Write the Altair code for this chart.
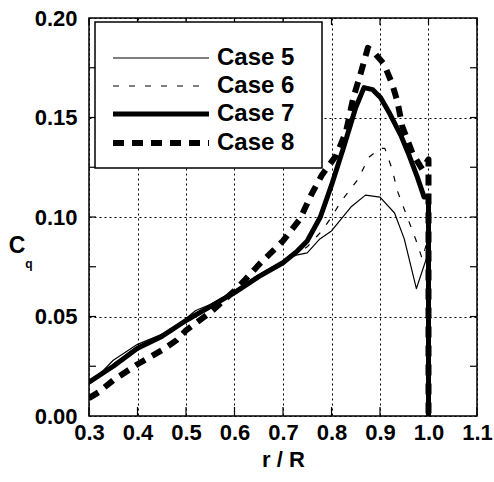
import altair as alt
import pandas as pd

# ---- data ----
x5 = [0.30, 0.33, 0.35, 0.40, 0.45, 0.47, 0.50, 0.52, 0.55, 0.60, 0.65, 0.70, 0.73, 0.75, 0.776, 0.80, 0.84, 0.87, 0.90, 0.93, 0.95, 0.975, 0.99, 1.0, 1.0]
y5 = [0.017, 0.023, 0.028, 0.036, 0.041, 0.042, 0.049, 0.053, 0.056, 0.063, 0.071, 0.078, 0.081, 0.082, 0.089, 0.093, 0.105, 0.111, 0.110, 0.102, 0.089, 0.064, 0.075, 0.082, 0.0]

x6 = [0.30, 0.35, 0.40, 0.45, 0.50, 0.55, 0.60, 0.65, 0.70, 0.73, 0.75, 0.78, 0.80, 0.82, 0.855, 0.877, 0.90, 0.91, 0.925, 0.936, 0.953, 0.974, 0.987, 1.0, 1.0]
y6 = [0.016, 0.026, 0.035, 0.040, 0.048, 0.055, 0.062, 0.070, 0.077, 0.082, 0.085, 0.093, 0.100, 0.108, 0.119, 0.130, 0.1345, 0.1345, 0.124, 0.113, 0.102, 0.0885, 0.079, 0.090, 0.0]

x7 = [0.30, 0.35, 0.40, 0.45, 0.50, 0.55, 0.60, 0.65, 0.70, 0.73, 0.75, 0.777, 0.80, 0.825, 0.85, 0.867, 0.885, 0.901, 0.92, 0.943, 0.96, 0.977, 0.991, 1.0, 1.0]
y7 = [0.017, 0.025, 0.034, 0.040, 0.048, 0.055, 0.062, 0.070, 0.077, 0.083, 0.088, 0.100, 0.116, 0.135, 0.155, 0.165, 0.164, 0.160, 0.152, 0.141, 0.131, 0.120, 0.110, 0.110, 0.0]

x8 = [0.30, 0.32, 0.35, 0.40, 0.45, 0.48, 0.50, 0.55, 0.60, 0.62, 0.65, 0.70, 0.735, 0.76, 0.78, 0.81, 0.83, 0.845, 0.86, 0.875, 0.89, 0.908, 0.925, 0.936, 0.946, 0.967, 0.987, 1.0, 1.0]
y8 = [0.009, 0.012, 0.018, 0.026, 0.033, 0.038, 0.043, 0.052, 0.063, 0.068, 0.076, 0.088, 0.099, 0.112, 0.121, 0.131, 0.143, 0.160, 0.172, 0.185, 0.182, 0.177, 0.167, 0.158, 0.1455, 0.132, 0.124, 0.129, 0.0]

case_names = ["Case 5", "Case 6", "Case 7", "Case 8"]
x_ticks = [0.3, 0.4, 0.5, 0.6, 0.7, 0.8, 0.9, 1.0, 1.1]
y_ticks = [0.0, 0.05, 0.10, 0.15, 0.20]
y_minor = [0.025, 0.05, 0.075, 0.10, 0.125, 0.15, 0.175]

W, H = 388, 398
FONT = "Liberation Sans"

styles = [
    dict(strokeWidth=1.2),
    dict(strokeWidth=1.2, strokeDash=[6, 10]),
    dict(strokeWidth=5),
    dict(strokeWidth=6, strokeDash=[11, 8]),
]

xs = alt.Scale(domain=[0.3, 1.1], nice=False, zero=False)
ys = alt.Scale(domain=[0.0, 0.2], nice=False, zero=False)

xaxis = alt.Axis(values=x_ticks, format=".1f", title="r / R", grid=True,
                 gridColor="black", gridDash=[2, 3], gridWidth=1, gridOpacity=1,
                 ticks=False, labelPadding=6, titlePadding=6, domain=False,
                 labelFlush=False, labelOverlap=False)
yaxis = alt.Axis(values=y_ticks, format=".2f", title=None, grid=True,
                 gridColor="black", gridDash=[2, 3], gridWidth=1, gridOpacity=1,
                 ticks=False, labelPadding=12, domain=False,
                 labelFlush=False, labelOverlap=False)

X = lambda f: alt.X(f, scale=xs, axis=xaxis)
Y = lambda f: alt.Y(f, scale=ys, axis=yaxis)

layers = []
series = [(x5, y5), (x6, y6), (x7, y7), (x8, y8)]
for (xv, yv), st in zip(series, styles):
    df = pd.DataFrame({"r": xv, "cq": yv, "i": list(range(len(xv)))})
    layers.append(alt.Chart(df).mark_line(color="black", strokeJoin="round", clip=True, **st).encode(
        x=X("r:Q"), y=Y("cq:Q"), order="i:Q"))

# inward tick marks
tx = pd.DataFrame({"r": x_ticks})
layers.append(alt.Chart(tx).mark_rule(color="black", strokeWidth=1.2).encode(
    x=X("r:Q"), y=alt.value(H), y2=alt.value(H - 9)))
layers.append(alt.Chart(tx).mark_rule(color="black", strokeWidth=1.2).encode(
    x=X("r:Q"), y=alt.value(0), y2=alt.value(7)))
ty = pd.DataFrame({"cq": y_minor})
layers.append(alt.Chart(ty).mark_rule(color="black", strokeWidth=1.2).encode(
    y=Y("cq:Q"), x=alt.value(0), x2=alt.value(7)))
layers.append(alt.Chart(ty).mark_rule(color="black", strokeWidth=1.2).encode(
    y=Y("cq:Q"), x=alt.value(W), x2=alt.value(W - 7)))

# legend
one = pd.DataFrame({"a": [0]})
layers.append(alt.Chart(one).mark_rect(fill="white", stroke="black", strokeWidth=1.5).encode(
    x=alt.value(6), x2=alt.value(233), y=alt.value(4), y2=alt.value(150)))
ly = [40, 68, 96, 125]
for name, st, yy in zip(case_names, styles, ly):
    layers.append(alt.Chart(one).mark_rule(color="black", **st).encode(
        x=alt.value(24), x2=alt.value(120), y=alt.value(yy)))
    layers.append(alt.Chart(one).mark_text(align="left", baseline="middle", font=FONT,
                                           fontSize=24, fontWeight="bold", color="black").encode(
        x=alt.value(128), y=alt.value(yy), text=alt.value(name)))

# y title C_q
layers.append(alt.Chart(one).mark_text(align="center", baseline="middle", font=FONT,
                                       fontSize=23, fontWeight="bold", color="black").encode(
    x=alt.value(-72), y=alt.value(228), text=alt.value("C")))
layers.append(alt.Chart(one).mark_text(align="center", baseline="middle", font=FONT,
                                       fontSize=12, fontWeight="bold", color="black").encode(
    x=alt.value(-60), y=alt.value(246), text=alt.value("q")))

chart = alt.layer(*layers).properties(
    width=W, height=H,
    autosize=alt.AutoSizeParams(type="none"),
    padding={"left": 89, "top": 18, "right": 17, "bottom": 66},
).configure_view(stroke="black", strokeWidth=1.5).configure_axis(
    labelFont=FONT, labelFontSize=22, labelFontWeight="bold", labelColor="black",
    titleFont=FONT, titleFontSize=22, titleFontWeight="bold", titleColor="black",
)

chart.save("out.html", embed_options={"renderer": "svg", "actions": False})
